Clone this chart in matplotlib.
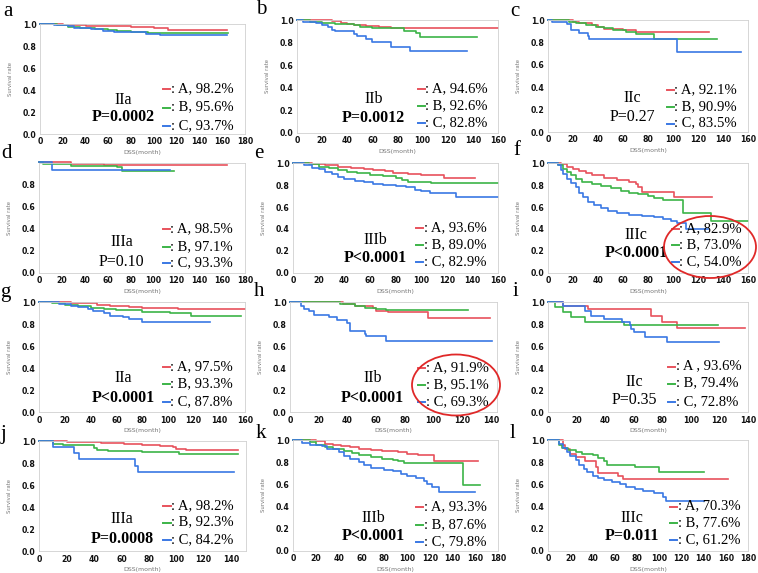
import matplotlib
matplotlib.use("Agg")
import matplotlib.pyplot as plt
from matplotlib.patches import Ellipse
from matplotlib.lines import Line2D

# ---- data ----
panels = ['a', 'b', 'c', 'd', 'e', 'f', 'g', 'h', 'i', 'j', 'k', 'l']
stages = ['IIa', 'IIb', 'IIc', 'IIIa', 'IIIb', 'IIIc',
          'IIa', 'IIb', 'IIc', 'IIIa', 'IIIb', 'IIIc']
p_texts = ['P=0.0002', 'P=0.0012', 'P=0.27', 'P=0.10', 'P<0.0001', 'P<0.0001',
           'P<0.0001', 'P<0.0001', 'P=0.35', 'P=0.0008', 'P<0.0001', 'P=0.011']
p_bold = [True, True, False, False, True, True, True, True, False, True, True, True]
pct_A = [98.2, 94.6, 92.1, 98.5, 93.6, 82.9, 97.5, 91.9, 93.6, 98.2, 93.3, 70.3]
pct_B = [95.6, 92.6, 90.9, 97.1, 89.0, 73.0, 93.3, 95.1, 79.4, 92.3, 87.6, 77.6]
pct_C = [93.7, 82.8, 83.5, 93.3, 82.9, 54.0, 87.8, 69.3, 72.8, 84.2, 79.8, 61.2]
name_A = ['A'] * 8 + ['A '] + ['A'] * 3
x_max = [180, 160, 160, 180, 160, 160, 160, 144, 140, 151, 180, 180]
x_tick_max = [180, 160, 160, 180, 160, 160, 160, 140, 140, 140, 180, 180]

# survival curves: (month, survival) step points
a_A = [(0, 1.0), (20, 0.995), (40, 0.985), (60, 0.978), (80, 0.97), (100, 0.965), (112, 0.942), (164, 0.942)]
a_B = [(0, 1.0), (15, 0.99), (25, 0.975), (35, 0.965), (48, 0.955), (60, 0.945), (68, 0.932), (80, 0.925), (95, 0.915), (165, 0.915)]
a_C = [(0, 1.0), (12, 0.99), (25, 0.978), (30, 0.965), (45, 0.955), (55, 0.94), (65, 0.925), (93, 0.905), (105, 0.902), (164, 0.902)]

b_A = [(0, 1.0), (28, 0.99), (35, 0.975), (40, 0.965), (45, 0.955), (55, 0.945), (65, 0.935), (75, 0.928), (160, 0.928)]
b_B = [(0, 1.0), (10, 0.985), (20, 0.975), (30, 0.965), (45, 0.955), (50, 0.94), (60, 0.925), (85, 0.905), (95, 0.882), (98, 0.846), (143, 0.846)]
b_C = [(0, 1.0), (5, 0.985), (15, 0.97), (20, 0.955), (25, 0.935), (28, 0.915), (30, 0.905), (45, 0.88), (48, 0.86), (55, 0.83), (60, 0.808), (75, 0.757), (90, 0.728), (135, 0.728)]

c_A = [(0, 1.0), (20, 0.985), (25, 0.97), (35, 0.955), (40, 0.935), (45, 0.92), (60, 0.91), (70, 0.896), (129, 0.896)]
c_B = [(0, 1.0), (17, 0.985), (22, 0.97), (30, 0.955), (38, 0.94), (45, 0.925), (52, 0.91), (62, 0.895), (70, 0.875), (85, 0.834), (135, 0.834)]
c_C = [(0, 1.0), (3, 0.98), (15, 0.96), (18, 0.91), (25, 0.88), (32, 0.86), (33, 0.834), (103, 0.713), (154, 0.713)]

d_A = [(0, 1.0), (28, 0.99), (57, 0.981), (164, 0.981)]
d_B = [(0, 1.0), (3, 0.985), (28, 0.972), (68, 0.96), (72, 0.922), (118, 0.922)]
d_C = [(0, 1.0), (11, 0.927), (114, 0.927)]

e_A = [(0, 1.0), (15, 0.99), (25, 0.98), (35, 0.97), (45, 0.96), (55, 0.95), (62, 0.94), (72, 0.93), (78, 0.915), (90, 0.905), (100, 0.896), (107, 0.89), (118, 0.869), (142, 0.869)]
e_B = [(0, 1.0), (12, 0.99), (20, 0.97), (28, 0.955), (35, 0.94), (42, 0.925), (50, 0.91), (60, 0.895), (70, 0.88), (80, 0.865), (85, 0.85), (90, 0.832), (105, 0.826), (108, 0.823), (160, 0.823)]
e_C = [(0, 1.0), (8, 0.985), (15, 0.96), (20, 0.945), (25, 0.92), (30, 0.9), (35, 0.875), (40, 0.855), (48, 0.84), (55, 0.825), (62, 0.815), (70, 0.805), (80, 0.795), (88, 0.78), (95, 0.76), (100, 0.745), (107, 0.732), (127, 0.689), (160, 0.689)]

f_A = [(0, 1.0), (10, 0.99), (15, 0.97), (20, 0.95), (25, 0.93), (30, 0.91), (35, 0.89), (45, 0.87), (55, 0.85), (65, 0.83), (70, 0.81), (72, 0.785), (75, 0.741), (101, 0.695), (131, 0.695)]
f_B = [(0, 1.0), (8, 0.98), (12, 0.95), (15, 0.92), (18, 0.89), (22, 0.86), (27, 0.83), (35, 0.81), (42, 0.79), (50, 0.77), (58, 0.75), (65, 0.73), (72, 0.72), (80, 0.70), (85, 0.68), (92, 0.665), (108, 0.543), (130, 0.47), (160, 0.47)]
f_C = [(0, 1.0), (8, 0.98), (10, 0.94), (12, 0.90), (15, 0.86), (18, 0.82), (22, 0.78), (25, 0.73), (28, 0.69), (32, 0.65), (37, 0.62), (42, 0.59), (48, 0.56), (55, 0.545), (65, 0.53), (75, 0.52), (85, 0.505), (92, 0.49), (98, 0.47), (103, 0.457), (110, 0.396), (128, 0.396)]

g_A = [(0, 1.0), (25, 0.995), (35, 0.99), (45, 0.98), (55, 0.97), (70, 0.96), (80, 0.951), (108, 0.936), (160, 0.936)]
g_B = [(0, 1.0), (10, 0.99), (20, 0.98), (30, 0.965), (40, 0.95), (50, 0.935), (60, 0.927), (80, 0.912), (102, 0.90), (118, 0.873), (157, 0.873)]
g_C = [(0, 1.0), (15, 0.985), (25, 0.97), (30, 0.955), (38, 0.94), (42, 0.925), (50, 0.90), (55, 0.88), (65, 0.865), (70, 0.845), (80, 0.818), (133, 0.818)]

h_A = [(0, 1.0), (37, 0.985), (45, 0.97), (58, 0.95), (60, 0.921), (68, 0.915), (96, 0.855), (139, 0.855)]
h_B = [(0, 1.0), (35, 0.985), (45, 0.97), (52, 0.95), (60, 0.94), (67, 0.93), (124, 0.93)]
h_C = [(0, 1.0), (8, 0.97), (10, 0.94), (13, 0.92), (17, 0.885), (27, 0.865), (33, 0.84), (40, 0.81), (42, 0.739), (52, 0.71), (53, 0.69), (67, 0.652), (141, 0.652)]

i_A = [(0, 1.0), (10, 0.965), (28, 0.936), (72, 0.879), (80, 0.824), (90, 0.764), (138, 0.764)]
i_B = [(0, 1.0), (5, 0.96), (10, 0.909), (16, 0.864), (26, 0.824), (53, 0.794), (119, 0.794)]
i_C = [(0, 1.0), (10, 0.965), (26, 0.924), (30, 0.88), (39, 0.848), (52, 0.82), (57, 0.79), (58, 0.76), (60, 0.727), (68, 0.688), (83, 0.636), (120, 0.636)]

j_A = [(0, 1.0), (20, 0.99), (45, 0.985), (62, 0.975), (75, 0.965), (88, 0.955), (98, 0.945), (100, 0.93), (107, 0.918), (145, 0.918)]
j_B = [(0, 1.0), (10, 0.98), (17, 0.964), (40, 0.94), (42, 0.925), (50, 0.915), (75, 0.903), (102, 0.885), (145, 0.885)]
j_C = [(0, 1.0), (10, 0.945), (25, 0.894), (29, 0.839), (70, 0.78), (72, 0.721), (142, 0.721)]

k_A = [(0, 1.0), (20, 0.99), (28, 0.97), (35, 0.96), (42, 0.95), (50, 0.94), (58, 0.925), (68, 0.91), (78, 0.90), (92, 0.89), (100, 0.875), (110, 0.865), (124, 0.816), (162, 0.816)]
k_B = [(0, 1.0), (15, 0.985), (20, 0.96), (28, 0.94), (35, 0.925), (45, 0.905), (52, 0.885), (58, 0.865), (68, 0.845), (78, 0.835), (88, 0.82), (92, 0.81), (97, 0.797), (149, 0.595), (164, 0.595)]
k_C = [(0, 1.0), (8, 0.98), (15, 0.96), (25, 0.945), (30, 0.92), (40, 0.89), (45, 0.86), (50, 0.83), (58, 0.80), (62, 0.775), (68, 0.745), (80, 0.735), (88, 0.72), (95, 0.695), (100, 0.675), (108, 0.655), (115, 0.635), (118, 0.60), (122, 0.575), (128, 0.532), (160, 0.532)]

l_A = [(0, 1.0), (13, 0.96), (15, 0.92), (20, 0.88), (25, 0.849), (33, 0.81), (43, 0.758), (45, 0.704), (63, 0.68), (67, 0.653), (162, 0.653)]
l_B = [(0, 1.0), (10, 0.96), (12, 0.93), (18, 0.91), (25, 0.895), (30, 0.88), (40, 0.87), (45, 0.84), (50, 0.81), (53, 0.779), (78, 0.761), (100, 0.71), (140, 0.71)]
l_C = [(0, 1.0), (10, 0.97), (13, 0.93), (17, 0.89), (20, 0.86), (25, 0.82), (28, 0.78), (32, 0.74), (35, 0.71), (40, 0.68), (45, 0.66), (50, 0.64), (57, 0.62), (65, 0.60), (70, 0.58), (78, 0.56), (85, 0.54), (95, 0.52), (103, 0.49), (106, 0.453), (140, 0.453)]

curves = [(a_A, a_B, a_C), (b_A, b_B, b_C), (c_A, c_B, c_C), (d_A, d_B, d_C),
          (e_A, e_B, e_C), (f_A, f_B, f_C), (g_A, g_B, g_C), (h_A, h_B, h_C),
          (i_A, i_B, i_C), (j_A, j_B, j_C), (k_A, k_B, k_C), (l_A, l_B, l_C)]

# ---- layout (pixels of the 758x573 picture) ----
W, H = 758, 573
# left, right, y of top, y of 0.0
boxes = [(40, 245, 24, 134), (297, 498, 20, 132.7), (548, 748, 20, 132),
         (39.3, 245, 163, 272.7), (293.3, 498, 163.3, 272.7), (548, 748, 163.3, 272.7),
         (39.3, 245, 302.3, 412.3), (290, 496.7, 302.3, 412.3), (548.3, 748, 302.3, 412.3),
         (39.3, 246, 441.3, 551.3), (293.3, 498, 440.3, 550.7), (548.3, 748, 440.3, 550.7)]
letter_pos = [(8, 12), (261, 10), (515, 12), (6, 153), (259, 153), (517, 151),
              (5, 292), (259, 292), (515, 292), (4, 435), (261, 434), (512, 434)]
stage_x = [0.405, 0.38, 0.42, 0.40, 0.40, 0.44, 0.41, 0.40, 0.43, 0.40, 0.39, 0.42]
stage_y = [0.31, 0.30, 0.30, 0.28, 0.30, 0.345, 0.31, 0.31, 0.28, 0.29, 0.30, 0.30]
p_y = [0.155, 0.13, 0.13, 0.10, 0.13, 0.18, 0.13, 0.13, 0.11, 0.115, 0.13, 0.13]
leg_x = [0.60, 0.60, 0.595, 0.60, 0.60, 0.62, 0.60, 0.62, 0.60, 0.60, 0.60, 0.61]
leg_y = [(0.41, 0.245, 0.08), (0.39, 0.24, 0.09), (0.38, 0.23, 0.08), (0.405, 0.24, 0.09),
         (0.415, 0.26, 0.10), (0.40, 0.26, 0.10), (0.415, 0.26, 0.10), (0.405, 0.255, 0.10),
         (0.42, 0.265, 0.10), (0.415, 0.265, 0.105), (0.40, 0.24, 0.085), (0.405, 0.255, 0.10)]

colors = ['#e8525c', '#3cb448', '#3a78e4']
serif = 'Liberation Serif'

fig = plt.figure(figsize=(W / 100, H / 100), dpi=100)

for n in range(12):
    l, r, top, bot = boxes[n]
    ax = fig.add_axes([l / W, 1 - bot / H, (r - l) / W, (bot - top) / H])
    for pts, col in zip(curves[n], colors):
        t = [p[0] for p in pts]
        s = [p[1] for p in pts]
        ax.step(t, s, where='post', color=col, lw=1.2, clip_on=False)
    ax.set_xlim(0, x_max[n])
    ax.set_ylim(0, 0.995 if n == 3 else 1.0)
    ax.set_xticks(range(0, x_tick_max[n] + 1, 20))
    ax.set_yticks([0, 0.2, 0.4, 0.6, 0.8] if n == 3 else [0, 0.2, 0.4, 0.6, 0.8, 1.0])
    ax.set_yticklabels([f'{v:.1f}' for v in ax.get_yticks()])
    ax.tick_params(length=0, pad=2.5, labelsize=5.6, labelcolor='#111111')
    for lab in ax.get_xticklabels() + ax.get_yticklabels():
        lab.set_fontweight('bold')
    for sp in ax.spines.values():
        sp.set_color('#d0d0d0')
        sp.set_linewidth(0.6)
    ax.set_ylabel('Survival rate', fontsize=3.8, color='#777777')
    ax.yaxis.set_label_coords(-27 / (r - l), 0.5)
    ax.set_xlabel('DSS(month)', fontsize=4.5, color='#777777')
    ax.xaxis.set_label_coords(0.5, -16 / (bot - top))

    # stage and p-value
    ax.text(stage_x[n], stage_y[n], stages[n], transform=ax.transAxes,
            ha='center', va='center', fontsize=11.5, family=serif)
    ax.text(stage_x[n], p_y[n], p_texts[n], transform=ax.transAxes,
            ha='center', va='center', fontsize=11.5, family=serif,
            fontweight='bold' if p_bold[n] else 'normal')

    # legend: coloured dash + text
    labels = [f': {name_A[n]}, {pct_A[n]:.1f}%', f': B, {pct_B[n]:.1f}%', f': C, {pct_C[n]:.1f}%']
    for lab, col, yy in zip(labels, colors, leg_y[n]):
        x0 = leg_x[n]
        ax.add_line(Line2D([x0, x0 + 0.035], [yy - 0.005, yy - 0.005], color=col, lw=1.4,
                           transform=ax.transAxes, clip_on=False))
        ax.text(x0 + 0.037, yy, lab, transform=ax.transAxes, ha='left', va='center',
                fontsize=10.5, family=serif)

    lx, ly = letter_pos[n]
    fig.text(lx / W, 1 - ly / H, panels[n], ha='center', va='center',
             fontsize=15, family=serif)

# red circles highlighting panels f and h
for cx, cy, ew, eh in [(710, 247, 92, 62), (456, 385, 88, 61)]:
    fig.add_artist(Ellipse((cx / W, 1 - cy / H), ew / W, eh / H, transform=fig.transFigure,
                           fill=False, ec='#e02828', lw=1.3))

fig.savefig('out.png', dpi=100)
